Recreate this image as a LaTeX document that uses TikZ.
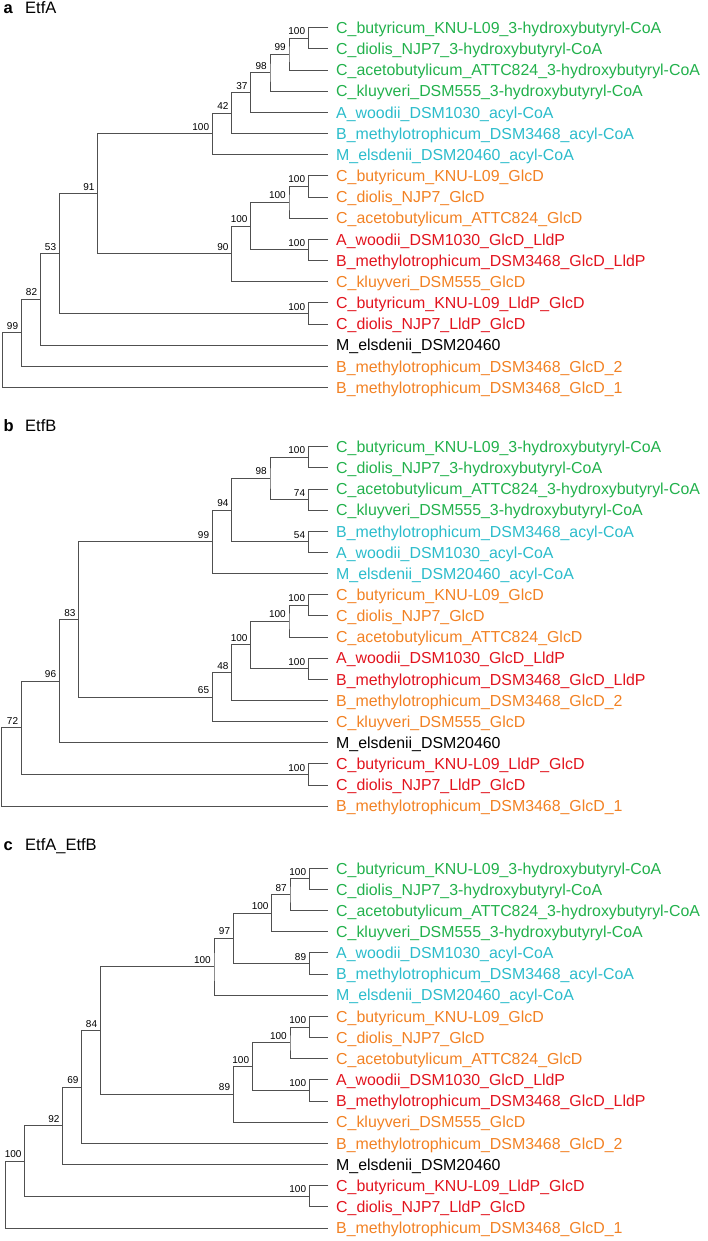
\documentclass[tikz,border=0pt]{standalone}
\usepackage{fontspec}
\setmainfont{Liberation Sans}
\definecolor{cgreen}{HTML}{22B14C}
\definecolor{ccyan}{HTML}{2BBCCB}
\definecolor{corange}{HTML}{F28123}
\definecolor{cred}{HTML}{E2141E}
\definecolor{cline}{HTML}{505050}
\tikzset{
  br/.style={draw=cline, line width=1pt},
  bs/.style={anchor=base east, inner sep=0pt, font=\fontsize{10}{12}\selectfont},
  leaflbl/.style={anchor=base west, inner sep=0pt, font=\fontsize{15.9}{18}\selectfont},
  ttl/.style={anchor=base west, inner sep=0pt, font=\fontsize{16.5}{19}\selectfont},
}
\newcommand\lf[4]{%
  \coordinate (#1) at (328.3,#2);
  \node[leaflbl,text=#3] (#1t) at (336,{#2+5.7}) {#4};}
\newcommand\inn[6]{%
  \coordinate (#1) at (#2,#3);
  \draw[br] (#4) -| (#1) |- (#5);
  \node[bs] (#1b) at ({#2-3},{#3-3.5}) {#6};}
\newcommand\rt[5]{%
  \coordinate (#1) at (#2,#3);
  \draw[br] (#4) -| (#1) |- (#5);}
\begin{document}
\begin{tikzpicture}[x=1pt,y=-1pt]
\useasboundingbox (0,0) rectangle (707,1241);
% ---------- panel a ----------
\node[ttl,font=\fontsize{16.5}{19}\selectfont\bfseries] (ta) at (3.5,13.5) {a};
\node[ttl] (tan) at (25,13.5) {EtfA};
\lf{a1}{27.7}{cgreen}{C\_butyricum\_KNU-L09\_3-hydroxybutyryl-CoA}
\lf{a2}{48.87}{cgreen}{C\_diolis\_NJP7\_3-hydroxybutyryl-CoA}
\lf{a3}{70.04}{cgreen}{C\_acetobutylicum\_ATTC824\_3-hydroxybutyryl-CoA}
\lf{a4}{91.21}{cgreen}{C\_kluyveri\_DSM555\_3-hydroxybutyryl-CoA}
\lf{a5}{112.38}{ccyan}{A\_woodii\_DSM1030\_acyl-CoA}
\lf{a6}{133.55}{ccyan}{B\_methylotrophicum\_DSM3468\_acyl-CoA}
\lf{a7}{154.72}{ccyan}{M\_elsdenii\_DSM20460\_acyl-CoA}
\lf{a8}{175.89}{corange}{C\_butyricum\_KNU-L09\_GlcD}
\lf{a9}{197.06}{corange}{C\_diolis\_NJP7\_GlcD}
\lf{a10}{218.23}{corange}{C\_acetobutylicum\_ATTC824\_GlcD}
\lf{a11}{239.4}{cred}{A\_woodii\_DSM1030\_GlcD\_LldP}
\lf{a12}{260.57}{cred}{B\_methylotrophicum\_DSM3468\_GlcD\_LldP}
\lf{a13}{281.74}{corange}{C\_kluyveri\_DSM555\_GlcD}
\lf{a14}{302.91}{cred}{C\_butyricum\_KNU-L09\_LldP\_GlcD}
\lf{a15}{324.08}{cred}{C\_diolis\_NJP7\_LldP\_GlcD}
\lf{a16}{345.25}{black}{M\_elsdenii\_DSM20460}
\lf{a17}{366.42}{corange}{B\_methylotrophicum\_DSM3468\_GlcD\_2}
\lf{a18}{387.59}{corange}{B\_methylotrophicum\_DSM3468\_GlcD\_1}
\inn{A1}{308.3}{38.29}{a1}{a2}{100}
\inn{A2}{289}{54.16}{A1}{a3}{99}
\inn{A3}{270}{72.69}{A2}{a4}{98}
\inn{A4}{250.7}{92.53}{A3}{a5}{37}
\inn{A5}{231.7}{113.04}{A4}{a6}{42}
\inn{A6}{212.3}{133.88}{A5}{a7}{100}
\inn{A7}{308.3}{186.47}{a8}{a9}{100}
\inn{A8}{289}{202.35}{A7}{a10}{100}
\inn{A9}{308.3}{249.98}{a11}{a12}{100}
\inn{A10}{250.7}{226.17}{A8}{A9}{100}
\inn{A11}{231.7}{253.95}{A10}{a13}{90}
\inn{A12}{97.7}{193.92}{A6}{A11}{91}
\inn{A13}{308.3}{313.5}{a14}{a15}{100}
\inn{A14}{59.3}{253.71}{A12}{A13}{53}
\inn{A15}{40.3}{299.48}{A14}{a16}{82}
\inn{A16}{21.3}{332.95}{A15}{a17}{99}
\rt{A17}{2.3}{360.27}{A16}{a18}
% ---------- panel b ----------
\node[ttl,font=\fontsize{16.5}{19}\selectfont\bfseries] (tb) at (3.5,431.7) {b};
\node[ttl] (tbn) at (25,431.7) {EtfB};
\lf{b1}{446.7}{cgreen}{C\_butyricum\_KNU-L09\_3-hydroxybutyryl-CoA}
\lf{b2}{467.85}{cgreen}{C\_diolis\_NJP7\_3-hydroxybutyryl-CoA}
\lf{b3}{489.0}{cgreen}{C\_acetobutylicum\_ATTC824\_3-hydroxybutyryl-CoA}
\lf{b4}{510.15}{cgreen}{C\_kluyveri\_DSM555\_3-hydroxybutyryl-CoA}
\lf{b5}{531.3}{ccyan}{B\_methylotrophicum\_DSM3468\_acyl-CoA}
\lf{b6}{552.45}{ccyan}{A\_woodii\_DSM1030\_acyl-CoA}
\lf{b7}{573.6}{ccyan}{M\_elsdenii\_DSM20460\_acyl-CoA}
\lf{b8}{594.75}{corange}{C\_butyricum\_KNU-L09\_GlcD}
\lf{b9}{615.9}{corange}{C\_diolis\_NJP7\_GlcD}
\lf{b10}{637.05}{corange}{C\_acetobutylicum\_ATTC824\_GlcD}
\lf{b11}{658.2}{cred}{A\_woodii\_DSM1030\_GlcD\_LldP}
\lf{b12}{679.35}{cred}{B\_methylotrophicum\_DSM3468\_GlcD\_LldP}
\lf{b13}{700.5}{corange}{B\_methylotrophicum\_DSM3468\_GlcD\_2}
\lf{b14}{721.65}{corange}{C\_kluyveri\_DSM555\_GlcD}
\lf{b15}{742.8}{black}{M\_elsdenii\_DSM20460}
\lf{b16}{763.95}{cred}{C\_butyricum\_KNU-L09\_LldP\_GlcD}
\lf{b17}{785.1}{cred}{C\_diolis\_NJP7\_LldP\_GlcD}
\lf{b18}{806.25}{corange}{B\_methylotrophicum\_DSM3468\_GlcD\_1}
\inn{B1}{308.3}{457.28}{b1}{b2}{100}
\inn{B2}{308.3}{499.58}{b3}{b4}{74}
\inn{B3}{270}{478.43}{B1}{B2}{98}
\inn{B4}{308.3}{541.88}{b5}{b6}{54}
\inn{B5}{231.7}{510.15}{B3}{B4}{94}
\inn{B6}{212.3}{541.88}{B5}{b7}{99}
\inn{B7}{308.3}{605.33}{b8}{b9}{100}
\inn{B8}{289}{621.19}{B7}{b10}{100}
\inn{B9}{308.3}{668.78}{b11}{b12}{100}
\inn{B10}{250.7}{644.98}{B8}{B9}{100}
\inn{B11}{231.7}{672.74}{B10}{b13}{48}
\inn{B12}{212.3}{697.2}{B11}{b14}{65}
\inn{B13}{78.7}{619.54}{B6}{B12}{83}
\inn{B14}{59.3}{681.17}{B13}{b15}{96}
\inn{B15}{308.3}{774.53}{b16}{b17}{100}
\inn{B16}{21.3}{727.85}{B14}{B15}{72}
\rt{B17}{1.7}{767.05}{B16}{b18}
% ---------- panel c ----------
\node[ttl,font=\fontsize{16.5}{19}\selectfont\bfseries] (tc) at (3.5,850) {c};
\node[ttl] (tcn) at (25,850) {EtfA\_EtfB};
\lf{c1}{868.3}{cgreen}{C\_butyricum\_KNU-L09\_3-hydroxybutyryl-CoA}
\lf{c2}{889.46}{cgreen}{C\_diolis\_NJP7\_3-hydroxybutyryl-CoA}
\lf{c3}{910.62}{cgreen}{C\_acetobutylicum\_ATTC824\_3-hydroxybutyryl-CoA}
\lf{c4}{931.78}{cgreen}{C\_kluyveri\_DSM555\_3-hydroxybutyryl-CoA}
\lf{c5}{952.94}{ccyan}{A\_woodii\_DSM1030\_acyl-CoA}
\lf{c6}{974.1}{ccyan}{B\_methylotrophicum\_DSM3468\_acyl-CoA}
\lf{c7}{995.26}{ccyan}{M\_elsdenii\_DSM20460\_acyl-CoA}
\lf{c8}{1016.42}{corange}{C\_butyricum\_KNU-L09\_GlcD}
\lf{c9}{1037.58}{corange}{C\_diolis\_NJP7\_GlcD}
\lf{c10}{1058.74}{corange}{C\_acetobutylicum\_ATTC824\_GlcD}
\lf{c11}{1079.9}{cred}{A\_woodii\_DSM1030\_GlcD\_LldP}
\lf{c12}{1101.06}{cred}{B\_methylotrophicum\_DSM3468\_GlcD\_LldP}
\lf{c13}{1122.22}{corange}{C\_kluyveri\_DSM555\_GlcD}
\lf{c14}{1143.38}{corange}{B\_methylotrophicum\_DSM3468\_GlcD\_2}
\lf{c15}{1164.54}{black}{M\_elsdenii\_DSM20460}
\lf{c16}{1185.7}{cred}{C\_butyricum\_KNU-L09\_LldP\_GlcD}
\lf{c17}{1206.86}{cred}{C\_diolis\_NJP7\_LldP\_GlcD}
\lf{c18}{1228.02}{corange}{B\_methylotrophicum\_DSM3468\_GlcD\_1}
\inn{C1}{309.3}{878.88}{c1}{c2}{100}
\inn{C2}{290}{894.75}{C1}{c3}{87}
\inn{C3}{271.7}{913.27}{C2}{c4}{100}
\inn{C4}{309.3}{963.52}{c5}{c6}{89}
\inn{C5}{233.3}{938.39}{C3}{C4}{97}
\inn{C6}{214}{966.83}{C5}{c7}{100}
\inn{C7}{309.3}{1027.0}{c8}{c9}{100}
\inn{C8}{290}{1042.87}{C7}{c10}{100}
\inn{C9}{309.3}{1090.48}{c11}{c12}{100}
\inn{C10}{252.3}{1066.68}{C8}{C9}{100}
\inn{C11}{233.3}{1094.45}{C10}{c13}{89}
\inn{C12}{100.3}{1030.64}{C6}{C11}{84}
\inn{C13}{81.7}{1087.01}{C12}{c14}{69}
\inn{C14}{62.7}{1125.78}{C13}{c15}{92}
\inn{C15}{309.3}{1196.28}{c16}{c17}{100}
\inn{C16}{24.7}{1161.03}{C14}{C15}{100}
\rt{C17}{5.7}{1194.53}{C16}{c18}
\end{tikzpicture}
\end{document}
